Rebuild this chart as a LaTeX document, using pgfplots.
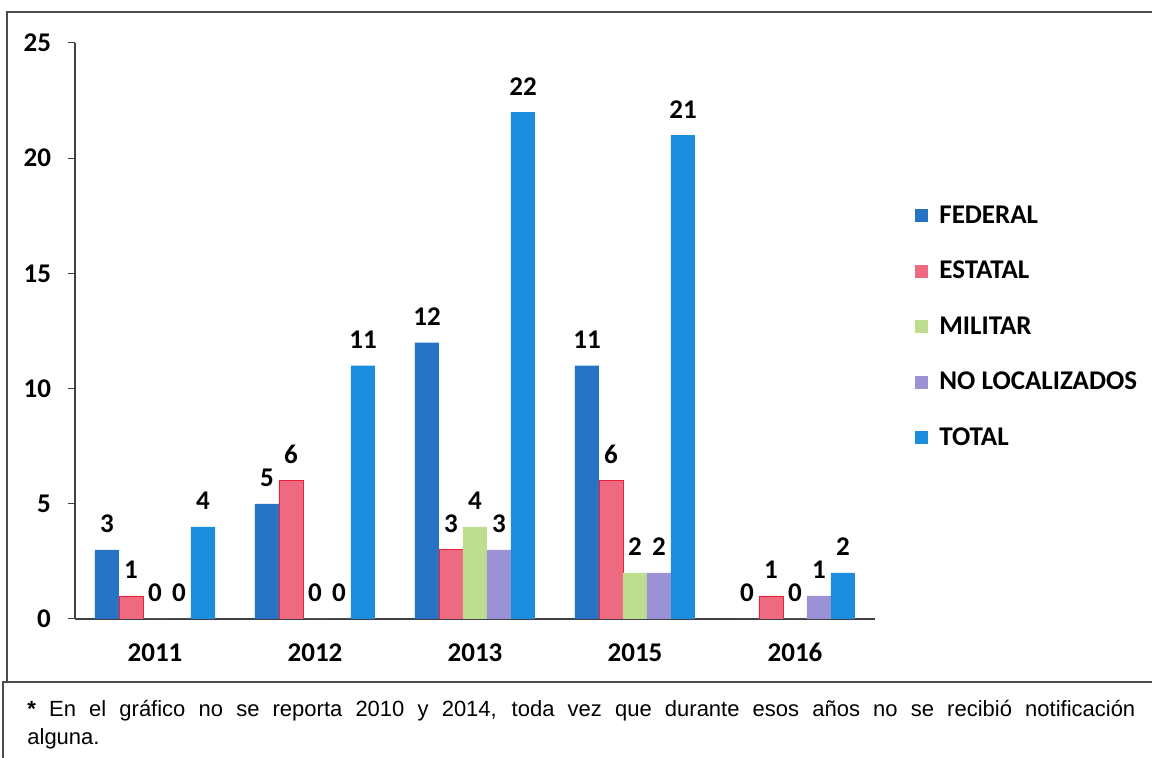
\documentclass[border=0pt]{standalone}
\usepackage{pgfplots}
\pgfplotsset{compat=1.18}
\usepackage{fontspec}
\setmainfont{Carlito}
\newfontfamily\notefont{Liberation Sans}

\definecolor{cfed}{HTML}{2672C4}
\definecolor{cest}{HTML}{EE6A80}
\definecolor{cestd}{HTML}{E8203A}
\definecolor{cmil}{HTML}{BEDD8E}
\definecolor{cnol}{HTML}{9C92D6}
\definecolor{ctot}{HTML}{1C8CDC}

\newcommand{\chartfont}{\bfseries\fontsize{13.5}{16}\selectfont}

\begin{document}
\begin{tikzpicture}
\useasboundingbox (0,0) rectangle (576pt,379pt);
\begin{axis}[
  at={(37.5pt,69.5pt)}, anchor=south west,
  scale only axis, width=400pt, height=288pt,
  ybar=0pt, bar width=12pt,
  xmin=-0.5, xmax=4.5, ymin=0, ymax=25,
  enlargelimits=false,
  axis lines*=left,
  axis line style={black!75, line width=0.6pt},
  xtick={0,1,2,3,4},
  xticklabels={2011,2012,2013,2015,2016},
  minor xtick={-0.5,0.5,...,4.5},
  xtick style={draw=none},
  minor tick length=3.5pt,
  major tick length=3.5pt,
  tick align=outside,
  ytick={0,5,...,25},
  every tick/.style={black!75, line width=0.5pt},
  /pgf/number format/assume math mode=true,
  tick label style={font=\chartfont, text=black},
  yticklabel style={xshift=-5pt},
  xticklabel style={yshift=-4.5pt, text height=9.5pt, text depth=0pt},
  nodes near coords,
  every node near coord/.append style={font=\chartfont, text=black, anchor=south, yshift=5pt},
  legend style={at={(1.05,0.725)}, anchor=north west, draw=none, fill=none,
    inner sep=0pt, font=\chartfont, row sep=13.4pt,
    /tikz/every odd column/.append style={column sep=3.5pt}},
  legend cell align=left,
  legend image code/.code={\fill[#1,draw=none] (0pt,-3.2pt) rectangle (6.5pt,3.3pt);},
]
\addplot[fill=cfed, draw=none] coordinates {(0,3) (1,5) (2,12) (3,11) (4,0)};
\addplot[fill=cest, draw=cestd, line width=0.4pt] coordinates {(0,1) (1,6) (2,3) (3,6) (4,1)};
\addplot[fill=cmil, draw=none] coordinates {(0,0) (1,0) (2,4) (3,2) (4,0)};
\addplot[fill=cnol, draw=none] coordinates {(0,0) (1,0) (2,3) (3,2) (4,1)};
\addplot[fill=ctot, draw=none] coordinates {(0,4) (1,11) (2,22) (3,21) (4,2)};
\legend{FEDERAL, ESTATAL, MILITAR, NO LOCALIZADOS, TOTAL}
\end{axis}
% marcos
\draw[black!70, line width=0.8pt] (3.5pt,38pt) -- (3.5pt,373pt) -- (576pt,373pt);
\draw[black!70, line width=0.8pt] (1.5pt,0pt) -- (1.5pt,38pt) -- (576pt,38pt);
% nota
\node[anchor=base west, inner sep=0pt, font=\notefont\fontsize{11}{13}\selectfont] at (13.5pt,20.5pt)
  {\makebox[554pt][s]{\textbf{*} En el gráfico no se reporta 2010 y 2014, toda vez que durante esos años no se recibió notificación}};
\node[anchor=base west, inner sep=0pt, font=\notefont\fontsize{11}{13}\selectfont] at (13.5pt,6.5pt) {alguna.};
\end{tikzpicture}
\end{document}
